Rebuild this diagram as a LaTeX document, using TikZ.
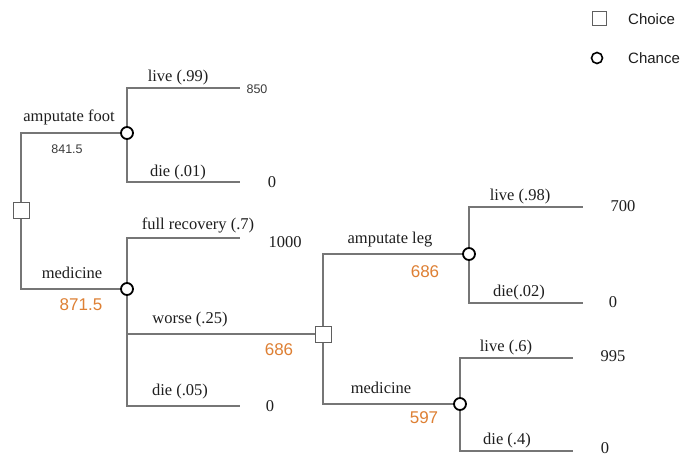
\documentclass[tikz,border=0pt]{standalone}
\usepackage{fontspec}
\setmainfont{Liberation Serif}
\newfontfamily\numfont{Liberation Sans}
\definecolor{linegray}{RGB}{118,118,118}
\definecolor{boxgray}{RGB}{95,95,95}
\definecolor{valorange}{RGB}{222,128,52}
\definecolor{txt}{RGB}{30,30,30}
\definecolor{smallnum}{RGB}{60,60,60}
\begin{document}
\begin{tikzpicture}[x=1pt,y=-1pt,
  edge/.style={draw=linegray,line width=1.2pt},
  choicebox/.style={draw=boxgray,fill=white,line width=1pt,minimum size=16pt,inner sep=0pt,shape=rectangle},
  chancenode/.style={draw=black,fill=white,line width=1.8pt,circle,minimum size=12pt,inner sep=0pt},
  lbl/.style={font=\fontsize{16.5}{18}\selectfont,text=txt,inner sep=0pt,anchor=base},
  outc/.style={font=\fontsize{16.5}{18}\selectfont,text=txt,inner sep=0pt,anchor=center},
  smallval/.style={font=\numfont\fontsize{12.5}{14}\selectfont,text=smallnum,inner sep=0pt,anchor=center},
  ev/.style={font=\numfont\fontsize{17}{19}\selectfont,text=valorange,inner sep=0pt,anchor=center},
  legtext/.style={font=\numfont\fontsize{15}{17}\selectfont,text=txt,inner sep=0pt,anchor=west}]
\useasboundingbox (0,0) rectangle (685,456);
\fill[white] (0,0) rectangle (685,456);

% decision and chance nodes
\node[choicebox] (r) at (21,210) {};
\node[chancenode] (c1) at (127,133) {};
\node[chancenode] (c2) at (127,289) {};
\node[choicebox] (d2) at (323,334) {};
\node[chancenode] (c3) at (469,254) {};
\node[chancenode] (c4) at (460,404) {};

% end points
\coordinate (e1) at (240,88);
\coordinate (e2) at (240,182);
\coordinate (e3) at (240,238);
\coordinate (e4) at (240,406);
\coordinate (e5) at (583,207);
\coordinate (e6) at (583,303);
\coordinate (e7) at (573,358);
\coordinate (e8) at (573,451);

% connectors
\draw[edge] (c1) -| (r);
\draw[edge] (c2) -| (r);
\draw[edge] (c1) |- (e1);
\draw[edge] (c1) |- (e2);
\draw[edge] (c2) |- (e3);
\draw[edge] (c2) |- (d2);
\draw[edge] (c2) |- (e4);
\draw[edge] (d2) |- (c3);
\draw[edge] (d2) |- (c4);
\draw[edge] (c3) |- (e5);
\draw[edge] (c3) |- (e6);
\draw[edge] (c4) |- (e7);
\draw[edge] (c4) |- (e8);

% branch labels
\node[lbl] (l1) at (69,121) {amputate foot};
\node[smallval] (v1) at (67,149) {841.5};
\node[lbl] (l2) at (72,278) {medicine};
\node[ev] (v2) at (81,305) {871.5};
\node[lbl] (l3) at (178,81) {live (.99)};
\node[smallval] (o1) at (257,89) {850};
\node[lbl] (l4) at (178,176) {die (.01)};
\node[outc] (o2) at (272,182) {0};
\node[lbl] (l5) at (198,229) {full recovery (.7)};
\node[outc] (o3) at (285,242) {1000};
\node[lbl] (l6) at (190,323) {worse (.25)};
\node[ev] (v3) at (279,350) {686};
\node[lbl] (l7) at (180,395) {die (.05)};
\node[outc] (o4) at (270,406) {0};
\node[lbl] (l8) at (390,243) {amputate leg};
\node[ev] (v4) at (425,272) {686};
\node[lbl] (l9) at (381,393) {medicine};
\node[ev] (v5) at (424,418) {597};
\node[lbl] (l10) at (520,200) {live (.98)};
\node[outc] (o5) at (623,206) {700};
\node[lbl] (l11) at (519,296) {die(.02)};
\node[outc] (o6) at (613,302) {0};
\node[lbl] (l12) at (506,351) {live (.6)};
\node[outc] (o7) at (613,356) {995};
\node[lbl] (l13) at (507,444) {die (.4)};
\node[outc] (o8) at (605,448) {0};

% legend
\node[choicebox,minimum size=14pt] (lg1) at (599,18) {};
\node[legtext] (lt1) at (628,19) {Choice};
\node[chancenode,minimum size=11pt,line width=1.6pt] (lg2) at (597,58) {};
\node[legtext] (lt2) at (628,58) {Chance};
\end{tikzpicture}
\end{document}
